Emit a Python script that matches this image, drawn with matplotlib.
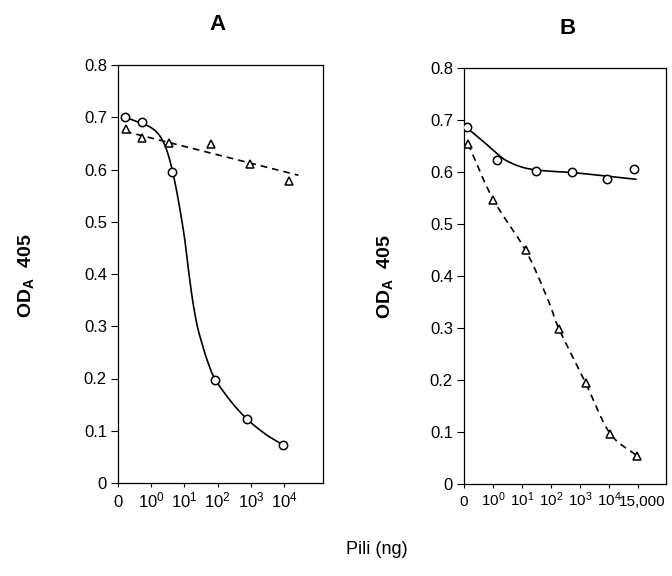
import matplotlib
matplotlib.use("Agg")
import matplotlib.pyplot as plt
import matplotlib.transforms as mtransforms
import numpy as np

plt.rcParams['font.family'] = ['Liberation Sans', 'DejaVu Sans']
plt.rcParams['mathtext.fontset'] = 'custom'
plt.rcParams['mathtext.rm'] = 'Liberation Sans'
plt.rcParams['mathtext.bf'] = 'Liberation Sans:bold'

# x values are positions on the decade axis (0 = no pili, 1 = 10^0, 2 = 10^1, ...)
tick_pos_A = [0, 1, 2, 3, 4, 5]
tick_lab_A = ['0', r'$\mathregular{10^0}$', r'$\mathregular{10^1}$', r'$\mathregular{10^2}$',
              r'$\mathregular{10^3}$', r'$\mathregular{10^4}$']
tick_pos_B = [0, 1, 2, 3, 4, 5, 6]
tick_lab_B = tick_lab_A + ['15,000']
yticks = [0, 0.1, 0.2, 0.3, 0.4, 0.5, 0.6, 0.7, 0.8]
ytick_lab = ['0', '0.1', '0.2', '0.3', '0.4', '0.5', '0.6', '0.7', '0.8']

# Panel A
A_circ_x = [0.22, 0.73, 1.64, 2.92, 3.89, 4.97]
A_circ_y = [0.700, 0.690, 0.595, 0.197, 0.122, 0.073]
A_tri_x = [0.23, 0.73, 1.55, 2.80, 3.98, 5.14]
A_tri_y = [0.677, 0.660, 0.651, 0.648, 0.610, 0.578]
A_fit_circ_x = [0.22, 0.73, 1.0, 1.24, 1.45, 1.64, 1.82, 2.0, 2.12, 2.24, 2.37, 2.5, 2.7,
                2.92, 3.4, 3.89, 4.45, 4.97]
A_fit_circ_y = [0.700, 0.688, 0.680, 0.666, 0.640, 0.597, 0.540, 0.470, 0.408, 0.352, 0.305,
                0.273, 0.232, 0.199, 0.156, 0.122, 0.093, 0.073]
A_fit_tri_x = [0.21, 5.43]
A_fit_tri_y = [0.673, 0.589]

# Panel B
B_circ_x = [0.10, 1.14, 2.48, 3.72, 4.93, 5.86]
B_circ_y = [0.687, 0.623, 0.602, 0.600, 0.587, 0.606]
B_tri_x = [0.14, 1.00, 2.14, 3.28, 4.20, 5.03, 5.97]
B_tri_y = [0.654, 0.546, 0.450, 0.298, 0.194, 0.096, 0.054]
B_fit_circ_x = [0.10, 0.64, 1.25, 1.6, 2.02, 2.48, 3.1, 3.72, 4.78, 5.93]
B_fit_circ_y = [0.685, 0.660, 0.630, 0.618, 0.609, 0.604, 0.601, 0.599, 0.593, 0.586]
B_fit_tri_x = [0.14, 1.00, 2.14, 2.90, 3.28, 4.20, 5.03, 5.97]
B_fit_tri_y = [0.654, 0.548, 0.448, 0.354, 0.298, 0.194, 0.098, 0.054]


def smooth(xs, ys, n=20):
    """Catmull-Rom spline through the given curve points (for drawing only)."""
    p = np.column_stack([xs, ys]).astype(float)
    p = np.vstack([2 * p[0] - p[1], p, 2 * p[-1] - p[-2]])
    out = []
    t = np.linspace(0, 1, n, endpoint=False)[:, None]
    for i in range(1, len(p) - 2):
        p0, p1, p2, p3 = p[i - 1], p[i], p[i + 1], p[i + 2]
        seg = 0.5 * ((2 * p1) + (-p0 + p2) * t + (2 * p0 - 5 * p1 + 4 * p2 - p3) * t ** 2
                     + (-p0 + 3 * p1 - 3 * p2 + p3) * t ** 3)
        out.append(seg)
    out.append(p[-2][None, :])
    out = np.vstack(out)
    return out[:, 0], out[:, 1]


fig = plt.figure(figsize=(6.72, 5.76), dpi=100)
axA = fig.add_axes([118/672, 1-483/576, 205/672, 418/576])
axB = fig.add_axes([464/672, 1-484/576, 202/672, 416/576])

mk = dict(markersize=6, markerfacecolor='white', markeredgecolor='black', markeredgewidth=1.1,
          linestyle='none', zorder=3)


def style(ax, xmax, tpos, tlab, xpad, xsize):
    ax.set_xlim(0, xmax)
    ax.set_ylim(0, 0.8)
    ax.set_xticks(tpos)
    ax.set_xticklabels(tlab)
    ax.set_yticks(yticks)
    ax.set_yticklabels(ytick_lab)
    ax.tick_params(axis='y', direction='out', length=5, width=0.8, pad=3, labelsize=12)
    ax.tick_params(axis='x', direction='out', length=3, width=0.8, pad=xpad, labelsize=xsize)
    for lab in ax.get_xticklabels():
        lab.set_verticalalignment('baseline')
    for s in ax.spines.values():
        s.set_linewidth(0.9)


# Panel A
sx, sy = smooth(A_fit_circ_x, A_fit_circ_y)
axA.plot(sx, sy, color='black', lw=1.2)
axA.plot(A_fit_tri_x, A_fit_tri_y, color='black', lw=1.2, dashes=(4, 3))
axA.plot(A_circ_x, A_circ_y, marker='o', **mk)
axA.plot(A_tri_x, A_tri_y, marker='^', **mk)
style(axA, 6.17, tick_pos_A, tick_lab_A, 14.5, 12)

# Panel B
sx, sy = smooth(B_fit_circ_x, B_fit_circ_y)
axB.plot(sx, sy, color='black', lw=1.2)
sx, sy = smooth(B_fit_tri_x, B_fit_tri_y)
axB.plot(sx, sy, color='black', lw=1.2, dashes=(4, 3))
axB.plot(B_circ_x, B_circ_y, marker='o', **mk)
axB.plot(B_tri_x, B_tri_y, marker='^', **mk)
style(axB, 6.97, tick_pos_B, tick_lab_B, 13, 11)
# nudge the crowded last label a little to the right, as in the reference
lab = axB.get_xticklabels()[-1]
lab.set_horizontalalignment('left')
lab.set_transform(lab.get_transform() + mtransforms.ScaledTranslation(-14/72, 0, fig.dpi_scale_trans))

fig.text(217/672, 1-25/576, 'A', ha='center', va='center', fontsize=16, fontweight='bold')
fig.text(568/672, 1-28/576, 'B', ha='center', va='center', fontsize=16, fontweight='bold')
ylab = r'OD$_{\mathregular{A}}$  405'
fig.text(27/672, 1-276/576, ylab, rotation=90, ha='center', va='center', fontsize=14,
         fontweight='bold')
fig.text(386/672, 1-277/576, ylab, rotation=90, ha='center', va='center', fontsize=14,
         fontweight='bold')
fig.text(377/672, 1-550/576, 'Pili (ng)', ha='center', va='center', fontsize=13)

fig.savefig('out.png', dpi=100)
